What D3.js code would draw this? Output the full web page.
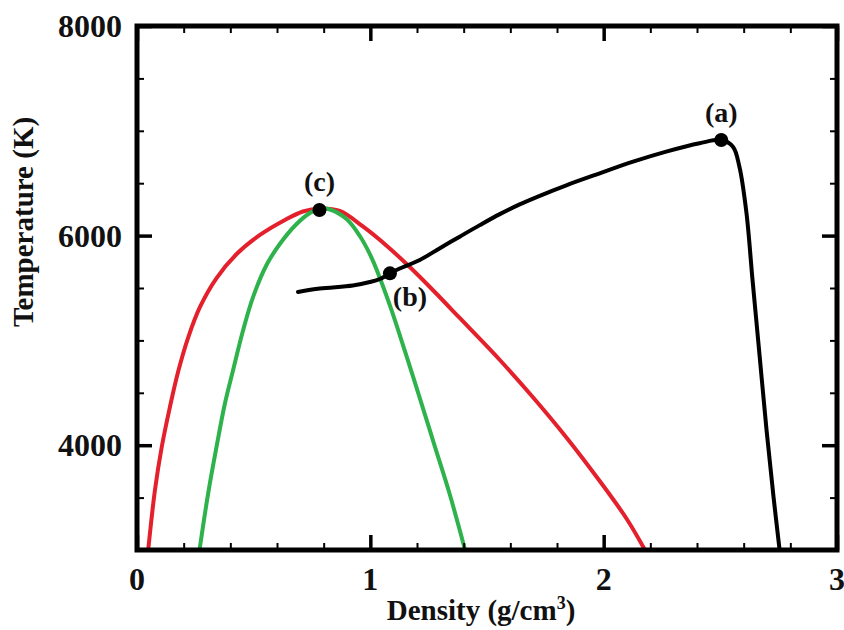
<!DOCTYPE html>
<html>
<head>
<meta charset="utf-8">
<script src="https://cdn.jsdelivr.net/npm/d3@7"></script>
<style>
  html, body { margin: 0; padding: 0; background: #fff; }
  svg text { font-family: "Liberation Serif", "Times New Roman", serif; font-weight: bold; fill: #111; }
</style>
</head>
<body>
<div id="chart"></div>
<script>
// Daten: [Dichte g/cm3, Temperatur K]
const coexistence = [
  [0.048, 3000], [0.077, 3573], [0.106, 3983], [0.141, 4364], [0.177, 4708],
  [0.220, 5032], [0.270, 5319], [0.341, 5595], [0.427, 5824], [0.527, 6006],
  [0.634, 6149], [0.711, 6230], [0.784, 6259], [0.869, 6235], [0.968, 6087],
  [1.071, 5901], [1.169, 5700], [1.276, 5462], [1.383, 5214], [1.555, 4813],
  [1.696, 4460], [1.842, 4069], [1.983, 3658], [2.099, 3296], [2.177, 3000]
];
const spinodal = [
  [0.268, 3000], [0.305, 3541], [0.341, 3986], [0.377, 4400], [0.412, 4718],
  [0.455, 5099], [0.498, 5417], [0.555, 5719], [0.612, 5920], [0.684, 6111],
  [0.741, 6216], [0.784, 6259], [0.827, 6249], [0.898, 6158], [0.955, 5996],
  [1.006, 5786], [1.049, 5548], [1.092, 5281], [1.148, 4899], [1.212, 4450],
  [1.276, 3992], [1.340, 3534], [1.406, 3000]
];
const path = [
  [0.690, 5462], [0.784, 5495], [0.925, 5524], [0.998, 5557], [1.041, 5586],
  [1.084, 5640], [1.126, 5686], [1.212, 5767], [1.298, 5880], [1.383, 5990],
  [1.469, 6100], [1.555, 6205], [1.640, 6298], [1.726, 6380], [1.840, 6480],
  [1.983, 6594], [2.126, 6705], [2.268, 6801], [2.411, 6881], [2.504, 6912],
  [2.554, 6848], [2.582, 6655], [2.612, 6216], [2.638, 5576], [2.668, 4861],
  [2.698, 4145], [2.728, 3506], [2.754, 3000]
];
const markers = [
  { label: '(a)', d: 2.504, T: 6912, dx: 0,  dy: -18 },
  { label: '(b)', d: 1.084, T: 5640, dx: 20, dy: 33 },
  { label: '(c)', d: 0.782, T: 6244, dx: 0,  dy: -19 }
];

const xMajor = [0, 1, 2, 3];
const xMinor = [0.2, 0.4, 0.6, 0.8, 1.2, 1.4, 1.6, 1.8, 2.2, 2.4, 2.6, 2.8];
const yMajor = [4000, 6000, 8000];
const yMinor = [3500, 4500, 5000, 5500, 6500, 7000, 7500];

const W = 844, H = 630;
const x = d3.scaleLinear().domain([0, 3]).range([137, 837]);
const y = d3.scaleLinear().domain([3000, 8000]).range([550, 26]);

const svg = d3.select('#chart').append('svg')
  .attr('width', W).attr('height', H);

// Kurven
const line = d3.line()
  .x(p => x(p[0])).y(p => y(p[1]))
  .curve(d3.curveCatmullRom.alpha(0.5));

const curves = [
  { data: coexistence, color: '#e3202b' },
  { data: spinodal,    color: '#2eb24b' },
  { data: path,        color: '#000000' }
];
svg.append('g').selectAll('path')
  .data(curves).enter().append('path')
    .attr('d', c => line(c.data))
    .attr('fill', 'none')
    .attr('stroke', c => c.color)
    .attr('stroke-width', 4)
    .attr('stroke-linejoin', 'round')
    .attr('stroke-linecap', 'round');

// Punkte + Beschriftung
const mk = svg.append('g').selectAll('g')
  .data(markers).enter().append('g')
    .attr('transform', m => `translate(${x(m.d)},${y(m.T)})`);
mk.append('circle').attr('r', 7).attr('fill', '#000');
mk.append('text')
  .attr('x', m => m.dx).attr('y', m => m.dy)
  .attr('text-anchor', 'middle')
  .attr('font-size', 28)
  .text(m => m.label);

// Achsen (Ticks nach innen)
function ticks(axisFn, values, size, transform, width) {
  const g = svg.append('g')
    .attr('transform', transform)
    .call(axisFn.tickValues(values).tickSizeInner(-size).tickSizeOuter(0).tickFormat(''));
  g.select('.domain').remove();
  g.selectAll('line').attr('stroke', '#000').attr('stroke-width', width);
  return g;
}
ticks(d3.axisBottom(x), xMinor, 7, 'translate(0,550)', 2);
ticks(d3.axisBottom(x), xMajor, 15, 'translate(0,550)', 3.5);
ticks(d3.axisTop(x), xMinor, 7, 'translate(0,26)', 2);
ticks(d3.axisTop(x), xMajor, 15, 'translate(0,26)', 3.5);
ticks(d3.axisLeft(y), yMinor, 7, 'translate(137,0)', 2);
ticks(d3.axisLeft(y), yMajor, 15, 'translate(137,0)', 3.5);
ticks(d3.axisRight(y), yMinor, 7, 'translate(837,0)', 2);
ticks(d3.axisRight(y), yMajor, 15, 'translate(837,0)', 3.5);

// Tick-Labels
svg.append('g').selectAll('text')
  .data(xMajor).enter().append('text')
    .attr('x', d => x(d)).attr('y', 590)
    .attr('text-anchor', 'middle')
    .attr('font-size', 32)
    .text(d => d);
svg.append('g').selectAll('text')
  .data(yMajor).enter().append('text')
    .attr('x', 122).attr('y', d => y(d))
    .attr('dy', '0.35em')
    .attr('text-anchor', 'end')
    .attr('font-size', 32)
    .text(d => d);

// Rahmen
svg.append('rect')
  .attr('x', x(0)).attr('y', y(8000))
  .attr('width', x(3) - x(0)).attr('height', y(3000) - y(8000))
  .attr('fill', 'none').attr('stroke', '#000').attr('stroke-width', 5);

// Achsentitel
const xt = svg.append('text')
  .attr('x', 481).attr('y', 620)
  .attr('text-anchor', 'middle')
  .attr('font-size', 29);
xt.append('tspan').text('Density (g/cm');
xt.append('tspan').attr('font-size', 18).attr('dy', -11).text('3');
xt.append('tspan').attr('dy', 11).text(')');

svg.append('text')
  .attr('transform', 'translate(33,222) rotate(-90)')
  .attr('text-anchor', 'middle')
  .attr('font-size', 29)
  .text('Temperature (K)');
</script>
</body>
</html>
